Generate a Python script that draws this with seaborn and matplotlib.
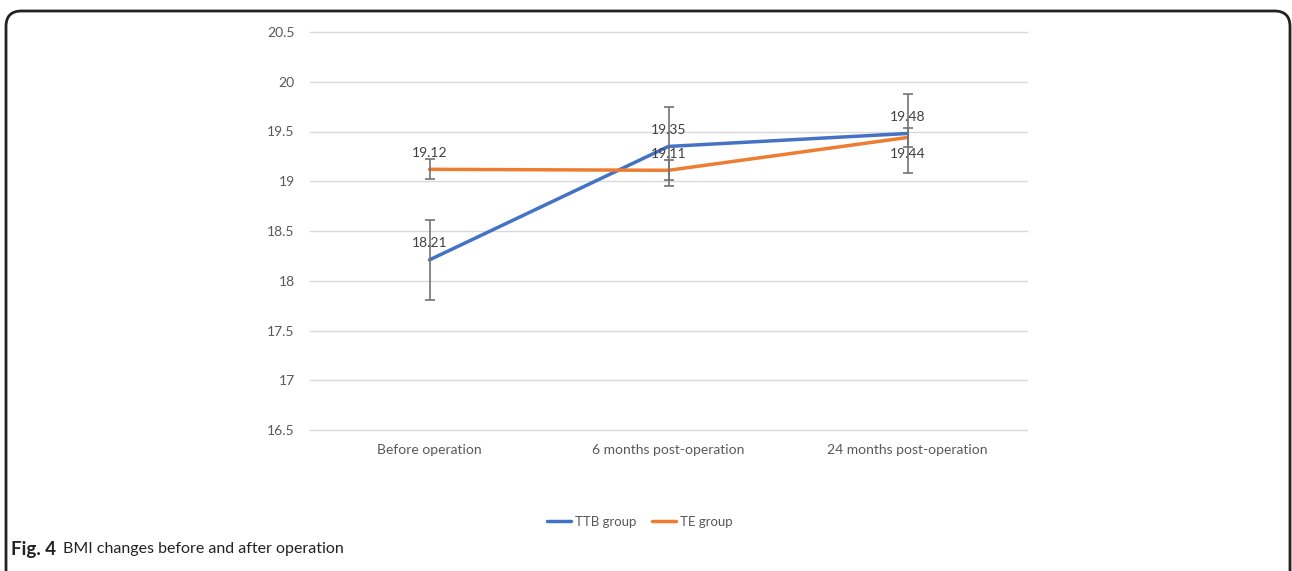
import numpy as np
import pandas as pd
import matplotlib
matplotlib.use('Agg')
import matplotlib.pyplot as plt
import seaborn as sns
from matplotlib.patches import FancyBboxPatch

# ========== 数据 ==========
stages = ['Before operation', '6 months post-operation', '24 months post-operation']
ttb_bmi = [18.21, 19.35, 19.48]
te_bmi = [19.12, 19.11, 19.44]
ttb_err = [0.40, 0.40, 0.40]
te_err = [0.10, 0.10, 0.10]
groups = ['TTB group', 'TE group']
y_ticks = [16.5, 17, 17.5, 18, 18.5, 19, 19.5, 20, 20.5]

sns.set_style('white')
plt.rcParams['font.family'] = ['Lato', 'DejaVu Sans']

df = pd.DataFrame({
    'stage': stages * 2,
    'x': list(range(len(stages))) * 2,
    'bmi': ttb_bmi + te_bmi,
    'group': [groups[0]] * 3 + [groups[1]] * 3,
})
palette = {'TTB group': '#4472C4', 'TE group': '#ED7D31'}

fig = plt.figure(figsize=(12.92, 5.71), dpi=100)
ax = fig.add_axes([310 / 1292, 1 - 430 / 571, 717 / 1292, 398 / 571])

# 网格线
for t in y_ticks:
    ax.axhline(t, color='#d9d9d9', linewidth=1, zorder=0, clip_on=False)

sns.lineplot(data=df, x='x', y='bmi', hue='group', palette=palette, linewidth=2.5,
             ax=ax, legend=False, zorder=3)

# 误差线
ax.errorbar(range(3), ttb_bmi, yerr=ttb_err, fmt='none', ecolor='#737373',
            elinewidth=1.2, capsize=3.5, capthick=1.2, zorder=4)
ax.errorbar(range(3), te_bmi, yerr=te_err, fmt='none', ecolor='#737373',
            elinewidth=1.2, capsize=3.5, capthick=1.2, zorder=4)

# 数据标签
lab_kw = dict(ha='center', va='center', fontsize=10, color='#404040', zorder=5)
for i, v in enumerate(ttb_bmi):
    ax.annotate(f'{v:.2f}', (i, v), xytext=(0, 12), textcoords='offset points', **lab_kw)
for i, v in enumerate(te_bmi):
    dy = -12 if i == 2 else 12
    ax.annotate(f'{v:.2f}', (i, v), xytext=(0, dy), textcoords='offset points', **lab_kw)

ax.set_xlim(-0.5, 2.5)
ax.set_ylim(16.5, 20.5)
ax.set_yticks(y_ticks)
ax.set_yticklabels([f'{t:g}' for t in y_ticks])
ax.set_xticks(range(3))
ax.set_xticklabels(stages)
ax.tick_params(axis='both', length=0, labelsize=10, labelcolor='#595959')
ax.tick_params(axis='y', pad=11)
ax.tick_params(axis='x', pad=10)
ax.set_xlabel('')
ax.set_ylabel('')
for s in ax.spines.values():
    s.set_visible(False)

# 图例
handles = [plt.Line2D([], [], color=palette[g], linewidth=2.5) for g in groups]
fig.legend(handles, groups, loc='center', bbox_to_anchor=(640 / 1292, 1 - 522 / 571),
           ncol=2, frameon=False, fontsize=9.5, handlelength=1.8, handletextpad=0.3,
           columnspacing=1.2, labelcolor='#595959')

# 外框（圆角）
frame = FancyBboxPatch((6 / 1292, -0.2), 1284 / 1292, 1.2 - 11 / 571,
                       boxstyle='round,pad=0,rounding_size=0.012',
                       transform=fig.transFigure, facecolor='none', edgecolor='#222222',
                       linewidth=2, mutation_aspect=1292 / 571, clip_on=False)
fig.patches.append(frame)

# 图注
fig.text(11 / 1292, 1 - 549 / 571, 'Fig. 4', fontsize=13.5, fontweight='bold', color='#222222',
         va='center')
fig.text(63 / 1292, 1 - 549 / 571, 'BMI changes before and after operation', fontsize=11.5,
         color='#222222', va='center')

fig.savefig('out.png', dpi=100)
